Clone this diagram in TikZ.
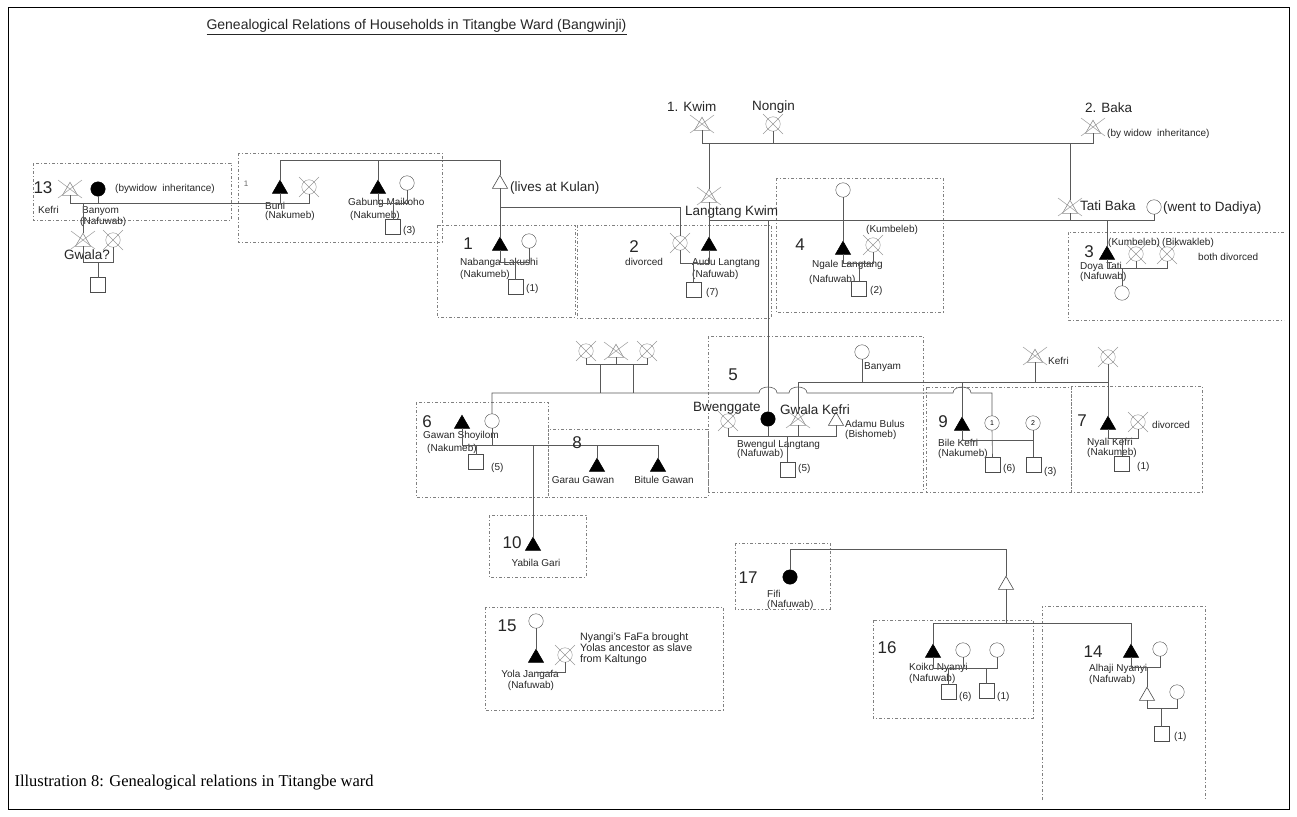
\documentclass[tikz,border=0pt]{standalone}
\usepackage{fontspec}
\setmainfont{Liberation Sans}
\newfontfamily\capfont{Liberation Serif}
\usetikzlibrary{shapes.geometric}
\newcommand\crossM[1]{\draw[xl] ([shift={(-12,-11)}]#1.center) -- ([shift={(12,7)}]#1.center) ([shift={(-12,7)}]#1.center) -- ([shift={(12,-11)}]#1.center);}
\newcommand\crossF[1]{\draw[xl] ([shift={(-10,-10)}]#1.center) -- ([shift={(10,10)}]#1.center) ([shift={(-10,10)}]#1.center) -- ([shift={(10,-10)}]#1.center);}
\begin{document}
\begin{tikzpicture}[x=1pt,y=-1pt,
  ln/.style={draw=black!65, line width=0.6pt},
  xl/.style={draw=black!40, line width=0.5pt},
  hh/.style={draw=black!50, line width=0.5pt, dash pattern=on 3pt off 2pt on 1pt off 2pt},
  tri/.style={regular polygon, regular polygon sides=3, minimum size=17.5pt, inner sep=0pt, outer sep=0pt, line width=0.6pt},
  mF/.style={tri, fill=black, draw=black},
  mO/.style={tri, fill=white, draw=black!70},
  mD/.style={tri, draw=black!45},
  fF/.style={circle, minimum size=14.5pt, inner sep=0pt, outer sep=0pt, fill=black, draw=black},
  fO/.style={circle, minimum size=14.5pt, inner sep=0pt, outer sep=0pt, draw=black!70, fill=white},
  fD/.style={circle, minimum size=14.5pt, inner sep=0pt, outer sep=0pt, draw=black!45},
  sq/.style={rectangle, minimum size=15pt, inner sep=0pt, outer sep=0pt, draw=black!70, fill=white},
  lab/.style={font=\fontsize{10}{10}\selectfont, text=black!85, inner sep=0pt, anchor=west},
  big/.style={font=\fontsize{13.5}{14}\selectfont, text=black!85, inner sep=0pt, anchor=west},
  num/.style={font=\fontsize{17}{17}\selectfont, text=black!85, inner sep=0pt},
]
\useasboundingbox (0,0) rectangle (1297,816);
\draw[line width=1pt] (8,8) rectangle (1289,809);
\node[anchor=west, font=\fontsize{14}{14}\selectfont, text=black!85] (title) at (203,27) {\underline{Genealogical Relations of Households in Titangbe Ward (Bangwinji)}};
\node[anchor=west, font=\capfont\fontsize{16.5}{16.5}\selectfont] (caption) at (11,783) {Illustration 8: Genealogical relations in Titangbe ward};

% household boxes
\draw[hh] (33,163) rectangle (231,220);
\draw[hh] (238,153) rectangle (442,242);
\draw[hh] (437,225) rectangle (575,317);
\draw[hh] (577,225) rectangle (771,318);
\draw[hh] (776,178) rectangle (943,312);
\draw[hh] (1284,232) -- (1068,232) -- (1068,320) -- (1284,320);
\draw[hh] (708,336) rectangle (923,492);
\draw[hh] (416,402) rectangle (548,497);
\draw[hh] (548,429) rectangle (708,497);
\draw[hh] (926,387) rectangle (1071,492);
\draw[hh] (1071,386) rectangle (1202,492);
\draw[hh] (489,515) rectangle (586,577);
\draw[hh] (485,607) rectangle (723,710);
\draw[hh] (735,543) rectangle (830,609);
\draw[hh] (873,620) rectangle (1033,718);
\draw[hh] (1042,800) -- (1042,606) -- (1205,606) -- (1205,800);

% levels
\coordinate (h143) at (0,143);
\coordinate (h160) at (0,160);
\coordinate (h203) at (0,203);
\coordinate (h207) at (0,207);
\coordinate (h219) at (0,220);
\coordinate (h262) at (0,262);
\coordinate (h263) at (0,263);
\coordinate (h268) at (0,268);
\coordinate (h363) at (0,364);
\coordinate (h382) at (0,382);
\coordinate (h393) at (0,393);
\coordinate (h436) at (0,436);
\coordinate (h438) at (0,438);
\coordinate (h440) at (0,440);
\coordinate (h445) at (0,445);
\coordinate (h549) at (0,549);
\coordinate (h623) at (0,623);
\coordinate (h667) at (0,667);
\coordinate (h668) at (0,668);
\coordinate (h672) at (0,672);
\coordinate (h708) at (0,708);

% ---------- top generation
\node[mD] (kwim) at (702,126) {}; \crossM{kwim}
\node[fD] (nongin) at (773,124) {}; \crossF{nongin}
\node[mD] (baka) at (1093,129) {}; \crossM{baka}
\node[big] (tkwim) at (667,107) {1. Kwim};
\node[big] (tnong) at (752,107) {Nongin};
\node[big] (tbaka) at (1085,108) {2. Baka};
\node[lab] (tbw) at (1107,134) {(by widow\ \ inheritance)};
\draw[ln] (kwim.south) -- (kwim.south |- h143) -- (baka.south |- h143) -- (baka.south);
\draw[ln] (nongin.south) -- (nongin.south |- h143);

\node[mD] (langk) at (709,198) {}; \crossM{langk}
\node[big] (tlangk) at (685,212) {Langtang Kwim};
\draw[ln] (langk.north) -- (langk.north |- h143);
\node[mD] (tati) at (1070,209) {}; \crossM{tati}
\node[big] (ttati) at (1080,206) {Tati Baka};
\draw[ln] (tati.north) -- (tati.north |- h143);
\node[fO] (dadiya) at (1154,207) {};
\node[big] (tdad) at (1163,208) {(went to Dadiya)};
\draw[ln] (langk.south |- h219) -- (dadiya.south |- h219) -- (dadiya.south);
\draw[ln] (tati.south) -- (tati.south |- h219);

% ---------- top-left sibling group
\node[mO] (kulan) at (500,184) {};
\node[big] (tkulan) at (510,188) {(lives at Kulan)};
\node[mF] (buni) at (280,189) {};
\node[mF] (gabung) at (378,189) {};
\draw[ln] (buni.north) -- (buni.north |- h160) -- (kulan.north |- h160) -- (kulan.north);
\draw[ln] (gabung.north) -- (gabung.north |- h160);
\node[mF] (nab) at (500,246) {};
\draw[ln] (kulan.south) -- (nab.north);
\node[fD] (cw2) at (680,243) {}; \crossF{cw2}
\draw[ln] (kulan.south |- h207) -- (cw2.north |- h207) -- (cw2.north);

\node[font=\fontsize{8}{8}\selectfont, text=black!60] (tA) at (246,184) {1};
\node[fD] (bw) at (309,187) {}; \crossF{bw}
\node[fO] (gw) at (407,183) {};
\node[lab] (tbuni) at (265,206) {Buni};
\node[lab] (tbuni2) at (265,216) {(Nakumeb)};
\node[lab] (tgab) at (348,203) {Gabung Maikoho};
\node[lab] (tgab2) at (350,216) {(Nakumeb)};
\node[sq] (sqA) at (393,227) {};
\node[lab] (tsqA) at (403,231) {(3)};
\draw[ln] (gabung.south) -- (gabung.south |- h203) -- (gw.south |- h203) -- (gw.south);
\draw[ln] (sqA.north |- h203) -- (sqA.north);
\draw[ln] (buni.south) -- (buni.south |- h203);

% ---------- household 13
\node[num] (n13) at (43,188) {13};
\node[mD] (kef13) at (70,191) {}; \crossM{kef13}
\node[fF] (banyom) at (98,189) {};
\node[lab] (tbwi) at (115,189) {(bywidow\ \ inheritance)};
\node[lab] (tkef13) at (38,210) {Kefri};
\node[lab] (tban) at (82,211) {Banyom};
\node[lab] (tban2) at (80,222) {(Nafuwab)};
\draw[ln] (kef13.south) -- (kef13.south |- h203) -- (bw.south |- h203) -- (bw.south);
\draw[ln] (banyom.south) -- (banyom.south |- h203);
\node[mD] (gw13) at (83,242) {}; \crossM{gw13}
\node[fD] (gw13f) at (113,240) {}; \crossF{gw13f}
\node[big] (tgw13) at (64,255) {Gwala?};
\draw[ln] (gw13.north) -- (gw13.north |- h203);
\draw[ln] (gw13.south) -- (gw13.south |- h262) -- (gw13f.south |- h262) -- (gw13f.south);
\node[sq] (sq13) at (98,285) {};
\draw[ln] (sq13.north |- h262) -- (sq13.north);

% ---------- household 1
\node[num] (n1) at (468,244) {1};
\node[fO] (nabw) at (529,241) {};
\node[lab] (tnab) at (460,263) {Nabanga Lakushi};
\node[lab] (tnab2) at (460,275) {(Nakumeb)};
\node[sq] (sq1) at (515.5,287) {};
\node[lab] (tsq1) at (526,289) {(1)};
\draw[ln] (nab.south) -- (nab.south |- h262) -- (nabw.south |- h262) -- (nabw.south);
\draw[ln] (sq1.north |- h262) -- (sq1.north);

% ---------- household 2
\node[mF] (audu) at (709,246) {};
\draw[ln] (langk.south) -- (audu.north);
\node[num] (n2) at (634,247) {2};
\node[lab] (tdiv2) at (625,262) {divorced};
\node[lab] (taudu) at (692,263) {Audu Langtang};
\node[lab] (taudu2) at (692,275) {(Nafuwab)};
\node[sq] (sq2) at (693.5,289.5) {};
\node[lab] (tsq2) at (706,293) {(7)};
\draw[ln] (cw2.south) -- (cw2.south |- h263) -- (audu.south |- h263) -- (audu.south);
\draw[ln] (sq2.north |- h263) -- (sq2.north);

% ---------- household 4
\node[fO] (ngm) at (843,190) {};
\node[mF] (ngale) at (843,250) {};
\draw[ln] (ngm.south) -- (ngale.north);
\node[num] (n4) at (800,245) {4};
\node[fD] (nw) at (873,245) {}; \crossF{nw}
\node[lab] (tkum4) at (866,230) {(Kumbeleb)};
\node[lab] (tngale) at (812,265) {Ngale Langtang};
\node[lab] (tngale2) at (809,280) {(Nafuwab)};
\node[sq] (sq4) at (859,288.5) {};
\node[lab] (tsq4) at (870,291) {(2)};
\draw[ln] (ngale.south) -- (ngale.south |- h263) -- (nw.south |- h263) -- (nw.south);
\draw[ln] (sq4.north |- h263) -- (sq4.north);

% ---------- household 3
\node[num] (n3) at (1089,252) {3};
\node[mF] (doya) at (1107,255) {};
\draw[ln] (doya.north) -- (doya.north |- h219);
\node[fD] (dw1) at (1136,254) {}; \crossF{dw1}
\node[fD] (dw2) at (1167,254) {}; \crossF{dw2}
\node[lab] (tkum3) at (1108,243) {(Kumbeleb)};
\node[lab] (tbik) at (1162,243) {(Bikwakleb)};
\node[lab] (tboth) at (1198,257) {both divorced};
\node[lab] (tdoya) at (1080,267) {Doya Tati};
\node[lab] (tdoya2) at (1080,277) {(Nafuwab)};
\node[fO] (dd) at (1122,293) {};
\draw[ln] (doya.south) -- (doya.south |- h268) -- (dw2.south |- h268) -- (dw2.south);
\draw[ln] (dw1.south) -- (dw1.south |- h268);
\draw[ln] (dd.north |- h268) -- (dd.north);

% ---------- middle ancestors
\node[fD] (a1) at (586,351) {}; \crossF{a1}
\node[mD] (a2) at (616,353) {}; \crossM{a2}
\node[fD] (a3) at (647,351) {}; \crossF{a3}
\draw[ln] (a1.south) -- (a1.south |- h363) -- (a3.south |- h363) -- (a3.south);
\draw[ln] (a2.south) -- (a2.south |- h363);
\coordinate (d1) at (600,0);
\coordinate (d2) at (633,0);
\draw[ln] (d1 |- h363) -- (d1 |- h393);
\draw[ln] (d2 |- h363) -- (d2 |- h393);

% ---------- household 6, 8, 10
\node[num] (n6) at (427,422) {6};
\node[mF] (gawan) at (462,424) {};
\node[fO] (gw6) at (492,421) {};
\node[lab] (tgawan) at (423,436) {Gawan Shoyilom};
\node[lab] (tgawan2) at (427,449) {(Nakumeb)};
\node[sq] (sq6) at (476,462) {};
\node[lab] (tsq6) at (491,468) {(5)};
\node[mF] (garau) at (597,467) {};
\node[mF] (bitule) at (658,467) {};
\draw[ln] (gawan.south) -- (gawan.south |- h445) -- (bitule.north |- h445) -- (bitule.north);
\draw[ln] (gw6.south) -- (gw6.south |- h445);
\draw[ln] (sq6.north |- h445) -- (sq6.north);
\draw[ln] (garau.north |- h445) -- (garau.north);
\node[mF] (yabila) at (533,546) {};
\draw[ln] (yabila.north |- h445) -- (yabila.north);
\node[num] (n8) at (577,443) {8};
\node[lab, anchor=center] (tgarau) at (583,480) {Garau Gawan};
\node[lab, anchor=center] (tbit) at (664,480) {Bitule Gawan};
\node[num] (n10) at (512,543) {10};
\node[lab, anchor=center] (tyab) at (536,563) {Yabila Gari};

% ---------- household 5
\node[num] (n5) at (733,375) {5};
\node[fF] (bwengul) at (768,419) {};
\draw[ln] (bwengul.north) -- (bwengul.north |- h219);
\node[fD] (bwg) at (728,421) {}; \crossF{bwg}
\node[mD] (gk) at (798,421) {}; \crossM{gk}
\node[mO] (adamu) at (836,421) {};
\node[big] (tbwg) at (693,408) {Bwenggate};
\node[big] (tgk) at (780,410) {Gwala Kefri};
\node[lab] (tadamu) at (845,424) {Adamu Bulus};
\node[lab] (tadamu2) at (845,435) {(Bishomeb)};
\node[fO] (banyam) at (862,352) {};
\node[lab] (tbanyam) at (864,367) {Banyam};
\draw[ln] (bwg.south) -- (bwg.south |- h436) -- (adamu.south |- h436) -- (adamu.south);
\draw[ln] (bwengul.south) -- (bwengul.south |- h436);
\draw[ln] (gk.south) -- (gk.south |- h436);
\node[lab] (tbwen) at (737,445) {Bwengul Langtang};
\node[lab] (tbwen2) at (737,454) {(Nafuwab)};
\node[sq] (sq5) at (787.5,469.5) {};
\node[lab] (tsq5) at (798,469) {(5)};
\draw[ln] (sq5.north |- h436) -- (sq5.north);

% ---------- Kefri line
\node[mD] (kef2) at (1035,358) {}; \crossM{kef2}
\node[lab] (tkef2) at (1048,361) {Kefri};
\node[fD] (kw) at (1108,357) {}; \crossF{kw}
\node[mF] (bile) at (962,426) {};
\node[mF] (nyali) at (1108,425) {};
\draw[ln] (gk.north) -- (gk.north |- h382) -- (kw.south |- h382);
\draw[ln] (banyam.south) -- (banyam.south |- h382);
\draw[ln] (kef2.south) -- (kef2.south |- h382);
\draw[ln] (bile.north) -- (bile.north |- h382);
\draw[ln] (kw.south) -- (nyali.north);

% ---------- household 9
\node[num] (n9) at (943,422) {9};
\node[fO, font=\fontsize{7}{7}\selectfont] (w91) at (992,423) {1};
\node[fO, font=\fontsize{7}{7}\selectfont] (w92) at (1033,423) {2};
\node[lab] (tbile) at (938,443) {Bile Kefri};
\node[lab] (tbile2) at (938,454) {(Nakumeb)};
\node[sq] (sq91) at (992.5,465) {};
\node[lab] (tsq91) at (1003,469) {(6)};
\node[sq] (sq92) at (1033.5,464.5) {};
\node[lab] (tsq92) at (1044,472) {(3)};
\draw[ln] (bile.south) -- (bile.south |- h440) -- (w92.south |- h440) -- (w92.south);
\draw[ln] (w91.south) -- (sq91.north);
\draw[ln] (sq92.north |- h440) -- (sq92.north);

% sibling line with jumps
\draw[ln] (gw6.north) -- (gw6.north |- h393) -- (759,393) .. controls (759,385) and (777,385) .. (777,393)
  -- (789,393) .. controls (789,385) and (807,385) .. (807,393)
  -- (953,393) .. controls (953,385) and (971,385) .. (971,393)
  -- (w91.north |- h393) -- (w91.north);

% ---------- household 7
\node[num] (n7) at (1082,421) {7};
\node[fD] (nw7) at (1138,422) {}; \crossF{nw7}
\node[lab] (tdiv7) at (1152,425) {divorced};
\node[lab] (tnyali) at (1087,443) {Nyali Kefri};
\node[lab] (tnyali2) at (1087,453) {(Nakumeb)};
\node[sq] (sq7) at (1122,463.5) {};
\node[lab] (tsq7) at (1137,467) {(1)};
\draw[ln] (nyali.south) -- (nyali.south |- h438) -- (nw7.south |- h438) -- (nw7.south);
\draw[ln] (sq7.north |- h438) -- (sq7.north);

% ---------- household 17 and Nyanyi
\node[num] (n17) at (748,578) {17};
\node[fF] (fifi) at (790,577) {};
\node[lab] (tfifi) at (767,594) {Fifi};
\node[lab] (tfifi2) at (767,605) {(Nafuwab)};
\node[mO] (opm) at (1006,585) {};
\draw[ln] (fifi.north) -- (fifi.north |- h549) -- (opm.north |- h549) -- (opm.north);
\node[mF] (koiko) at (933,653) {};
\node[mF] (alhaji) at (1131,653) {};
\draw[ln] (opm.south) -- (opm.south |- h623);
\draw[ln] (koiko.north) -- (koiko.north |- h623) -- (alhaji.north |- h623) -- (alhaji.north);

% household 16
\node[num] (n16) at (887,648) {16};
\node[fO] (k1) at (963,650) {};
\node[fO] (k2) at (997,650) {};
\node[lab] (tkoiko) at (909,668) {Koiko Nyanyi};
\node[lab] (tkoiko2) at (909,679) {(Nafuwab)};
\node[sq] (s161) at (948.5,692) {};
\node[lab] (ts161) at (959,697) {(6)};
\node[sq] (s162) at (986.5,691) {};
\node[lab] (ts162) at (997,697) {(1)};
\draw[ln] (koiko.south) -- (koiko.south |- h668) -- (k2.south |- h668) -- (k2.south);
\draw[ln] (k1.south) -- (k1.south |- h668);
\draw[ln] (s161.north |- h668) -- (s161.north);
\draw[ln] (s162.north |- h668) -- (s162.north);

% household 14
\node[num] (n14) at (1093,652) {14};
\node[fO] (aw) at (1160,649) {};
\node[lab] (talh) at (1089,669) {Alhaji Nyanyi};
\node[lab] (talh2) at (1089,680) {(Nafuwab)};
\draw[ln] (alhaji.south) -- (alhaji.south |- h667) -- (aw.south |- h667) -- (aw.south);
\node[mO] (son) at (1147,696) {};
\node[fO] (sw) at (1177,692) {};
\draw[ln] (son.north |- h667) -- (son.north);
\draw[ln] (son.south) -- (son.south |- h708) -- (sw.south |- h708) -- (sw.south);
\node[sq] (sq14) at (1161.5,734) {};
\node[lab] (tsq14) at (1174,737) {(1)};
\draw[ln] (sq14.north |- h708) -- (sq14.north);

% household 15
\node[num] (n15) at (507,626) {15};
\node[fO] (yolam) at (536,621) {};
\node[mF] (yola) at (536,658) {};
\draw[ln] (yolam.south) -- (yola.north);
\node[fD] (yw) at (565,655) {}; \crossF{yw}
\node[lab, anchor=center] (tyola) at (530,675) {Yola Jangafa};
\node[lab, anchor=center] (tyola2) at (531,686) {(Nafuwab)};
\draw[ln] (yw.south) -- (yw.south |- h672) -- (yola.south |- h672);
\node[lab, anchor=north west, align=left, font=\fontsize{10.7}{11}\selectfont] (tnote) at (580,633) {Nyangi’s FaFa brought\\Yolas ancestor as slave\\from Kaltungo};
\end{tikzpicture}
\end{document}
